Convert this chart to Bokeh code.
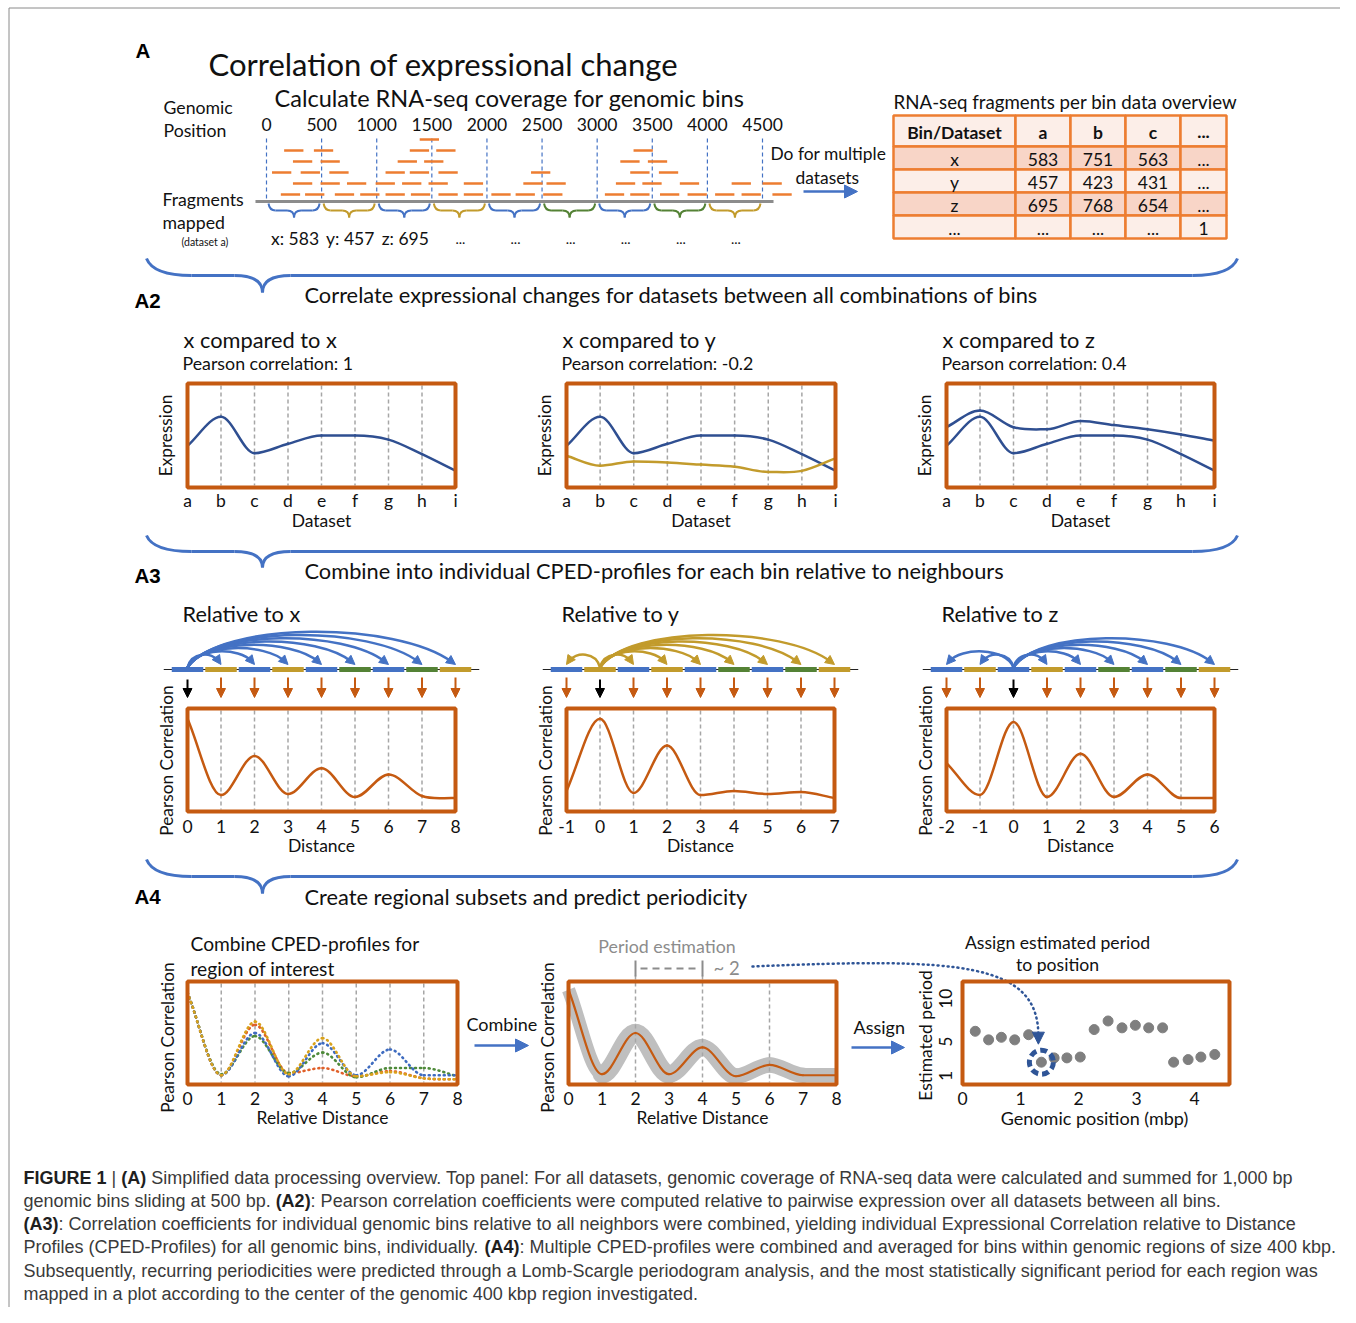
import numpy as np
from bokeh.plotting import figure
from bokeh.models import Range1d, Arrow, NormalHead, ColumnDataSource
from bokeh.core.properties import value
from bokeh.embed import file_html
from bokeh.resources import INLINE

# ======================= DATA =======================
genomic_ticks = [0, 500, 1000, 1500, 2000, 2500, 3000, 3500, 4000, 4500]
frag_level1 = [130, 350, 620, 850, 1080, 1310, 1560, 1790, 2040, 2260, 2510, 3070, 3300, 3570, 3820, 4070, 4310, 4590]
frag_level2 = [240, 490, 730, 990, 1230, 1470, 1790, 2330, 2540, 3170, 3410, 3750, 4220, 4500]
frag_level3 = [50, 310, 570, 1080, 1300, 1560, 2400, 3300, 3560]
frag_level4 = [240, 490, 1190, 1430, 3210, 3460]
frag_level5 = [160, 430, 1300, 1540, 3330]
frag_level6 = [1390]
fragment_length_bp = 175
bin_colors = ["blue", "gold", "blue", "gold", "blue", "green", "blue", "green", "gold"]
bin_count_labels = ["x: 583", "y: 457", "z: 695", "...", "...", "...", "...", "...", "..."]

table_header = ["Bin/Dataset", "a", "b", "c", "..."]
table_rows = [["x", "583", "751", "563", "..."],
              ["y", "457", "423", "431", "..."],
              ["z", "695", "768", "654", "..."],
              ["...", "...", "...", "...", "1"]]

datasets = ["a", "b", "c", "d", "e", "f", "g", "h", "i"]
expression_x = [4.0, 6.8, 3.3, 4.2, 5.0, 5.0, 4.6, 3.2, 1.6]
expression_y = [3.05, 2.1, 2.5, 2.4, 2.2, 2.0, 1.5, 1.6, 2.8]
expression_z = [5.8, 7.4, 5.8, 5.6, 6.4, 6.0, 5.6, 5.1, 4.5]
pearson_values = ["1", "-0.2", "0.4"]

distance_rel_x = [0, 1, 2, 3, 4, 5, 6, 7, 8]
corr_rel_x = [0.90, 0.16, 0.54, 0.17, 0.42, 0.14, 0.36, 0.15, 0.13]
distance_rel_y = [-1, 0, 1, 2, 3, 4, 5, 6, 7]
corr_rel_y = [0.20, 0.90, 0.18, 0.64, 0.16, 0.20, 0.17, 0.19, 0.13]
distance_rel_z = [-2, -1, 0, 1, 2, 3, 4, 5, 6]
corr_rel_z = [0.47, 0.16, 0.87, 0.14, 0.56, 0.14, 0.36, 0.13, 0.13]

relative_distance = [0, 1, 2, 3, 4, 5, 6, 7, 8]
cped_gold = [0.89, 0.09, 0.61, 0.10, 0.45, 0.08, 0.12, 0.06, 0.05]
cped_red = [0.89, 0.09, 0.58, 0.11, 0.16, 0.08, 0.13, 0.06, 0.05]
cped_blue = [0.89, 0.09, 0.50, 0.08, 0.40, 0.09, 0.34, 0.09, 0.09]
cped_green = [0.89, 0.10, 0.47, 0.11, 0.31, 0.07, 0.16, 0.16, 0.08]
combined_mean = [0.92, 0.10, 0.50, 0.10, 0.36, 0.08, 0.19, 0.09, 0.09]
combined_halfwidth = [0.05, 0.08, 0.10, 0.08, 0.09, 0.07, 0.08, 0.07, 0.07]
period_marks = [2, 4]

genomic_position_mbp = [0.22, 0.45, 0.67, 0.90, 1.14, 1.36, 1.58, 1.80, 2.03, 2.27, 2.51, 2.75, 2.98, 3.21, 3.45, 3.64, 3.89, 4.11, 4.35]
estimated_period = [6.2, 5.2, 5.5, 5.2, 5.8, 2.6, 3.1, 3.1, 3.2, 6.4, 7.4, 6.6, 6.9, 6.6, 6.6, 2.6, 2.9, 3.2, 3.5]
highlight_index = 5
period_ticks = [1, 5, 10]
position_ticks = [0, 1, 2, 3, 4]

caption_lines = [
    [("FIGURE 1", True), (" | ", False), ("(A)", True),
     (" Simplified data processing overview. Top panel: For all datasets, genomic coverage of RNA-seq data were calculated and summed for 1,000 bp", False)],
    [("genomic bins sliding at 500 bp. ", False), ("(A2)", True),
     (": Pearson correlation coefficients were computed relative to pairwise expression over all datasets between all bins.", False)],
    [("(A3)", True),
     (": Correlation coefficients for individual genomic bins relative to all neighbors were combined, yielding individual Expressional Correlation relative to Distance", False)],
    [("Profiles (CPED-Profiles) for all genomic bins, individually. ", False), ("(A4)", True),
     (": Multiple CPED-profiles were combined and averaged for bins within genomic regions of size 400 kbp.", False)],
    [("Subsequently, recurring periodicities were predicted through a Lomb-Scargle periodogram analysis, and the most statistically significant period for each region was", False)],
    [("mapped in a plot according to the center of the genomic 400 kbp region investigated.", False)],
]

# ======================= STYLE =======================
BLUE = "#4472C4"; GOLD = "#C29B2C"; GREEN = "#548235"; ORANGE = "#ED7D31"
RUST = "#C55A11"; DKBLUE = "#2F5597"; GRID = "#A6A6A6"; CBLUE = "#2F4F91"
COLOR = {"blue": BLUE, "gold": GOLD, "green": GREEN}
FONT = "Lato"

W, H = 1340, 1307
p = figure(width=W, height=H, x_range=Range1d(0, W), y_range=Range1d(H, 0),
           output_backend="svg", toolbar_location=None, min_border=0,
           x_axis_type=None, y_axis_type=None)
p.grid.visible = False
p.outline_line_color = None
p.background_fill_color = "white"


def T(x, y, s, size, align="left", color="#111111", bold=False, angle=0.0, font=FONT):
    p.text(x=[x], y=[y], text=[s], text_font=value(font), text_font_size=f"{size}px",
           text_color=color, text_align=align, text_baseline="middle",
           text_font_style="bold" if bold else "normal", angle=angle)


def mapper(box, xr, yr):
    l, r, t, b = box
    def fx(v):
        return l + (np.asarray(v, float) - xr[0]) / (xr[1] - xr[0]) * (r - l)
    def fy(v):
        return b - (np.asarray(v, float) - yr[0]) / (yr[1] - yr[0]) * (b - t)
    return fx, fy


def smooth_bezier(xs, ys):
    P = np.column_stack([np.asarray(xs, float), np.asarray(ys, float)])
    n = len(P)
    M = np.zeros_like(P)
    for i in range(n):
        if i == 0:
            M[i] = P[1] - P[0]
        elif i == n - 1:
            M[i] = P[-1] - P[-2]
        else:
            M[i] = (P[i + 1] - P[i - 1]) / 2.0
            if (P[i, 1] - P[i - 1, 1]) * (P[i + 1, 1] - P[i, 1]) <= 0:
                M[i, 1] = 0.0
    d = {k: [] for k in ("x0", "y0", "x1", "y1", "cx0", "cy0", "cx1", "cy1")}
    for i in range(n - 1):
        c0 = P[i] + M[i] / 3.0
        c1 = P[i + 1] - M[i + 1] / 3.0
        d["x0"].append(P[i, 0]); d["y0"].append(P[i, 1])
        d["x1"].append(P[i + 1, 0]); d["y1"].append(P[i + 1, 1])
        d["cx0"].append(c0[0]); d["cy0"].append(c0[1])
        d["cx1"].append(c1[0]); d["cy1"].append(c1[1])
    return d


BZ = dict(x0="x0", y0="y0", x1="x1", y1="y1", cx0="cx0", cy0="cy0", cx1="cx1", cy1="cy1")


def curve(xs, ys, color, lw=2.5, dash="solid"):
    d = smooth_bezier(xs, ys)
    p.bezier(**BZ, source=ColumnDataSource(d), line_color=color, line_width=lw, line_dash=dash,
             line_cap="round")


def arrows(xs, ys, xe, ye, color, size=10, lw=2.0):
    src = ColumnDataSource(dict(xs=list(xs), ys=list(ys), xe=list(xe), ye=list(ye)))
    p.add_layout(Arrow(end=NormalHead(size=size, fill_color=color, line_color=color, line_width=1),
                       x_start="xs", y_start="ys", x_end="xe", y_end="ye",
                       line_color=color, line_width=lw, source=src))


def brace(xl, xr, xtip, ytop, ymid, ytip, r_end, r_tip, color, lw):
    p.quadratic(x0=[xl, xtip - r_tip, xtip, xr - r_end],
                y0=[ytop, ymid, ytip, ymid],
                x1=[xl + r_end, xtip, xtip + r_tip, xr],
                y1=[ymid, ytip, ymid, ytop],
                cx=[xl + r_end * 0.15, xtip, xtip, xr - r_end * 0.15],
                cy=[ymid, ymid, ymid, ymid], line_color=color, line_width=lw)
    p.segment(x0=[xl + r_end, xtip + r_tip], y0=[ymid, ymid],
              x1=[xtip - r_tip, xr - r_end], y1=[ymid, ymid], line_color=color, line_width=lw)


def box(l, r, t, b):
    p.quad(left=[l], right=[r], top=[t], bottom=[b], fill_color=None,
           line_color=RUST, line_width=4)


def vgrid(xs, t, b, color=GRID, lw=1.5):
    xs = list(xs)
    p.segment(x0=xs, y0=[t] * len(xs), x1=xs, y1=[b] * len(xs),
              line_color=color, line_width=lw, line_dash="4 3")


# outer frame
p.quad(left=[8.5], right=[1353], top=[7.5], bottom=[1340], fill_color=None,
       line_color="#8a8a8a", line_width=1)

# ======================= PANEL A =======================
gx = lambda bp: 266 + np.asarray(bp, float) * (762 - 266) / 4500.0
T(135, 50, "A", 20.5, bold=True, font="Liberation Sans", color="#000000")
T(208, 63, "Correlation of expressional change", 31)
T(274, 97, "Calculate RNA-seq coverage for genomic bins", 23.5)
T(163, 107, "Genomic", 17.7)
T(163, 130, "Position", 17.7)
for t in genomic_ticks:
    T(float(gx(t)), 124, str(t), 17.5, align="center")
vgrid([float(gx(t)) for t in genomic_ticks], 138, 202, color=BLUE, lw=1.2)

levels = [frag_level1, frag_level2, frag_level3, frag_level4, frag_level5, frag_level6]
fx0, fx1, fy = [], [], []
for lv, starts in enumerate(levels, start=1):
    for s in starts:
        fx0.append(float(gx(s))); fx1.append(float(gx(s + fragment_length_bp))); fy.append(205 - 11 * lv)
p.segment(x0=fx0, y0=fy, x1=fx1, y1=fy, line_color=ORANGE, line_width=2.6)
p.segment(x0=[float(gx(-100))], y0=[201], x1=[float(gx(4600))], y1=[201], line_color="#8C8C8C", line_width=3)

for i, c in enumerate(bin_colors):
    xl = float(gx(genomic_ticks[i])) + 2
    xr = float(gx(genomic_ticks[i + 1])) - 2
    xm = (xl + xr) / 2
    brace(xl, xr, xm, 203, 210, 217, 7, 7, COLOR[c], 2)
    T(xm + 1, 238, bin_count_labels[i], 17.5 if bin_count_labels[i] != "..." else 14, align="center")

T(162, 199, "Fragments", 17.7)
T(162, 222, "mapped", 17.7)
T(181, 241, "(dataset a)", 10.5)
T(770, 153, "Do for multiple", 17.4)
T(795, 177, "datasets", 17.4)
arrows([803], [191], [857], [191], BLUE, size=13, lw=2.5)

T(893, 101, "RNA-seq fragments per bin data overview", 18.7)
col_edges = [893, 1015, 1070, 1125, 1180, 1226]
row_edges = [115, 146, 169, 192, 215, 238]
row_fill = ["#FCEEE8", "#F8D5C7", "#FCEEE8", "#F8D5C7", "#FCEEE8"]
all_rows = [table_header] + table_rows
ql, qr, qt, qb, qf = [], [], [], [], []
for r, row in enumerate(all_rows):
    for c, cell in enumerate(row):
        ql.append(col_edges[c]); qr.append(col_edges[c + 1])
        qt.append(row_edges[r]); qb.append(row_edges[r + 1]); qf.append(row_fill[r])
p.quad(left=ql, right=qr, top=qt, bottom=qb, fill_color=qf, line_color=ORANGE, line_width=2.5)
for r, row in enumerate(all_rows):
    for c, cell in enumerate(row):
        T((col_edges[c] + col_edges[c + 1]) / 2, (row_edges[r] + row_edges[r + 1]) / 2 + 1, cell,
          17.5, align="center", bold=(r == 0))

# ======================= SECTION BRACES =======================
for (yt, ym, ytip) in [(258, 275, 292), (535, 551, 567), (859, 876, 893)]:
    brace(146, 1237, 262, yt, ym, ytip, 45, 28, BLUE, 3)

# ======================= A2 =======================
T(134, 300, "A2", 20.5, bold=True, font="Liberation Sans", color="#000000")
T(304, 294, "Correlate expressional changes for datasets between all combinations of bins", 21.8)
a2_boxes = [(187, 455), (566, 835), (946, 1214)]
a2_series = [[(expression_x, CBLUE)],
             [(expression_x, CBLUE), (expression_y, GOLD)],
             [(expression_x, CBLUE), (expression_z, CBLUE)]]
a2_titles = ["x compared to x", "x compared to y", "x compared to z"]
for k, (l, r) in enumerate(a2_boxes):
    t, b = 383, 487
    fx, fyy = mapper((l, r, t, b), (0, len(datasets) - 1), (0, 10))
    xs = fx(np.arange(len(datasets)))
    vgrid(xs[1:-1], t + 2, b - 2)
    for ser, col in a2_series[k]:
        curve(xs, fyy(ser), col, 2.5)
    box(l, r, t, b)
    for j, lab in enumerate(datasets):
        T(float(xs[j]), 500, lab, 17.5, align="center")
    T((l + r) / 2, 520, "Dataset", 17.5, align="center")
    T(l - 4, 339, a2_titles[k], 21.8)
    T(l - 5, 362, "Pearson correlation: " + pearson_values[k], 17.8)
    T(l - 22, (t + b) / 2, "Expression", 17.2, align="center", angle=np.pi / 2)

# ======================= A3 =======================
T(134, 575, "A3", 20.5, bold=True, font="Liberation Sans", color="#000000")
T(304, 570, "Combine into individual CPED-profiles for each bin relative to neighbours", 21.8)
a3_boxes = [(187, 455), (566, 834), (946, 1214)]
a3_dist = [distance_rel_x, distance_rel_y, distance_rel_z]
a3_corr = [corr_rel_x, corr_rel_y, corr_rel_z]
a3_titles = ["Relative to x", "Relative to y", "Relative to z"]
a3_arc_colors = [BLUE, GOLD, BLUE]
for k, (l, r) in enumerate(a3_boxes):
    t, b = 708, 811
    dist = a3_dist[k]
    fx, fyy = mapper((l, r, t, b), (dist[0], dist[-1]), (0, 1))
    xs = fx(dist)
    step = xs[1] - xs[0]
    p.segment(x0=[xs[0] - step / 2 - 7], y0=[669], x1=[xs[-1] + step / 2 + 7], y1=[669],
              line_color="#222222", line_width=1)
    p.segment(x0=list(xs - step / 2 + 1), y0=[669] * len(xs), x1=list(xs + step / 2 - 1), y1=[669] * len(xs),
              line_color=[COLOR[c] for c in bin_colors], line_width=5)
    src_i = dist.index(0)
    xsrc = float(xs[src_i])
    ac = a3_arc_colors[k]
    bx = {kk: [] for kk in ("x0", "y0", "x1", "y1", "cx0", "cy0", "cx1", "cy1")}
    ax0, ay0, ax1, ay1 = [], [], [], []
    for j, dv in enumerate(dist):
        if dv == 0:
            continue
        xt = float(xs[j])
        dd = xt - xsrc
        s = np.sign(dd)
        ad = abs(dd)
        h = 12 + 3.3 * (abs(dv) - 1)
        ctrl = h / 0.75
        P0 = np.array([xsrc, 667.0]); P3 = np.array([xt, 664.0])
        P1 = np.array([xsrc + s * 0.12 * ad, 667 - ctrl])
        P2 = np.array([xt - s * max(0.22 * ad, 9), 667 - ctrl])
        u = (P3 - P2) / np.linalg.norm(P3 - P2)
        Pe = P3 - u * 4
        bx["x0"].append(P0[0]); bx["y0"].append(P0[1]); bx["x1"].append(Pe[0]); bx["y1"].append(Pe[1])
        bx["cx0"].append(P1[0]); bx["cy0"].append(P1[1]); bx["cx1"].append(P2[0]); bx["cy1"].append(P2[1])
        ax0.append(P3[0] - u[0] * 6); ay0.append(P3[1] - u[1] * 6); ax1.append(P3[0]); ay1.append(P3[1])
    p.bezier(**BZ, source=ColumnDataSource(bx), line_color=ac, line_width=2.5)
    arrows(ax0, ay0, ax1, ay1, ac, size=9, lw=2)
    red_x = [float(xs[j]) for j, dv in enumerate(dist) if dv != 0]
    arrows(red_x, [677] * len(red_x), red_x, [697] * len(red_x), RUST, size=9, lw=2)
    arrows([xsrc], [679], [xsrc], [697], "#000000", size=9, lw=2)
    vgrid(xs[1:-1], t + 2, b - 2)
    curve(xs, fyy(a3_corr[k]), RUST, 2.5)
    box(l, r, t, b)
    for j, dv in enumerate(dist):
        T(float(xs[j]), 826, str(dv), 17.5, align="center")
    T((l + r) / 2, 845, "Distance", 17.5, align="center")
    T(l - 5, 613, a3_titles[k], 21.7)
    T(l - 21, 760, "Pearson Correlation", 17.3, align="center", angle=np.pi / 2)

# ======================= A4 =======================
T(134, 896, "A4", 20.5, bold=True, font="Liberation Sans", color="#000000")
T(304, 896, "Create regional subsets and predict periodicity", 21.8)

# panel 1
l, r, t, b = 187, 457, 981, 1084
fx, fyy = mapper((l, r, t, b), (0, 8), (0, 1))
xs = fx(relative_distance)
vgrid(xs[1:-1], t + 2, b - 2)
for ser, col in [(cped_red, "#E0602A"), (cped_green, "#4E8A3A"), (cped_blue, "#3F6CC0"), (cped_gold, "#D9A21B")]:
    curve(xs, fyy(ser), col, 2.6, dash="1 4")
box(l, r, t, b)
for j, dv in enumerate(relative_distance):
    T(float(xs[j]), 1098, str(dv), 17.5, align="center")
T((l + r) / 2, 1117, "Relative Distance", 17.4, align="center")
T(190, 943, "Combine CPED-profiles for", 19.2)
T(190, 968, "region of interest", 19.2)
T(l - 20, 1037, "Pearson Correlation", 17.3, align="center", angle=np.pi / 2)
T(466, 1023, "Combine", 18)
arrows([474], [1045], [528], [1045], BLUE, size=13, lw=2.5)

# panel 2
l, r, t, b = 568, 836, 981, 1084
fx, fyy = mapper((l, r, t, b), (0, 8), (0, 1))
xs = fx(relative_distance)
px_per_unit = (b - t)
band = smooth_bezier(xs, fyy(combined_mean))
hw = np.asarray(combined_halfwidth)
band["w"] = list((hw[:-1] + hw[1:]) * px_per_unit)
nseg = len(band["x0"])
inner = {k: v[1:-1] for k, v in band.items()}
ends = {k: [v[0], v[-1]] for k, v in band.items()}
p.bezier(**BZ, source=ColumnDataSource(inner), line_color="#BFBFBF", line_width="w", line_cap="round")
p.bezier(**BZ, source=ColumnDataSource(ends), line_color="#BFBFBF", line_width="w", line_cap="butt")
mark_x = [float(fx(m)) for m in period_marks]
vgrid(mark_x, 975, b - 2)
vgrid([float(fx(6))], t + 2, b - 2)
curve(xs, fyy(combined_mean), RUST, 2.2)
box(l, r, t, b)
for j, dv in enumerate(relative_distance):
    T(float(xs[j]), 1098, str(dv), 17.5, align="center")
T((l + r) / 2, 1117, "Relative Distance", 17.4, align="center")
T(l - 21, 1037, "Pearson Correlation", 17.3, align="center", angle=np.pi / 2)
T((mark_x[0] + mark_x[1]) / 2 - 2, 945, "Period estimation", 17.8, align="center", color="#8C8C8C")
p.segment(x0=mark_x, y0=[960, 960], x1=mark_x, y1=[976, 976], line_color="#8C8C8C", line_width=2)
p.segment(x0=[mark_x[0] + 5], y0=[968], x1=[mark_x[1] - 4], y1=[968], line_color="#8C8C8C",
          line_width=2, line_dash="7 5")
T(mark_x[1] + 11, 967, "~ 2", 18.5, color="#8C8C8C")
T(853, 1026, "Assign", 18)
arrows([851], [1047], [904], [1047], BLUE, size=13, lw=2.5)

# panel 3
l, r, t, b = 962, 1229, 981, 1084
fx, fyy = mapper((l, r, t, b), (0, (r - l) / 58.0), (0, 12.0))
hx = float(fx(genomic_position_mbp[highlight_index]))
hy = float(fyy(estimated_period[highlight_index]))
p.bezier(x0=[752], y0=[966], cx0=[960], cy0=[957], cx1=[hx - 3], cy1=[962], x1=[hx - 3], y1=[hy - 26],
         line_color=DKBLUE, line_width=2.5, line_dash="1 4", line_cap="round")
arrows([hx - 3], [hy - 28], [hx - 3], [hy - 18], DKBLUE, size=12, lw=2.5)
p.scatter(x=list(fx(genomic_position_mbp)), y=list(fyy(estimated_period)), size=10,
          fill_color="#7F7F7F", line_color="#7F7F7F")
p.circle(x=[hx], y=[hy], radius=12, fill_color=None, line_color=DKBLUE, line_width=5, line_dash="7 4")
box(l, r, t, b)
for v in position_ticks:
    T(float(fx(v)), 1098, str(v), 17.5, align="center")
for v in period_ticks:
    T(945, float(fyy(v)), str(v), 17.5, align="center", angle=np.pi / 2)
T(1094, 1117, "Genomic position (mbp)", 18, align="center")
T(925, 1035, "Estimated period", 17.5, align="center", angle=np.pi / 2)
T(1057, 942, "Assign estimated period", 17.6, align="center")
T(1057, 964, "to position", 17.6, align="center")

# ======================= CAPTION =======================
REG = {" ": 278, "(": 333, ")": 333, ",": 278, "-": 333, ".": 278, "/": 278, ":": 278, "|": 260}
for ch in "0123456789":
    REG[ch] = 556
REG.update(dict(zip("ABCDEFGHIJKLMNOPQRSTUVWXYZ",
                    [667, 667, 722, 722, 667, 611, 778, 722, 278, 500, 667, 556, 833, 722, 778, 667, 778, 722, 667, 611, 722, 667, 944, 667, 667, 611])))
REG.update(dict(zip("abcdefghijklmnopqrstuvwxyz",
                    [556, 556, 500, 556, 556, 278, 556, 556, 222, 222, 500, 222, 833, 556, 556, 556, 556, 333, 500, 278, 556, 500, 722, 500, 500, 500])))
BOLD = {" ": 278, "(": 333, ")": 333, ":": 333, "A": 722, "E": 667, "F": 611, "G": 778, "I": 278, "R": 722, "U": 722}
for ch in "0123456789":
    BOLD[ch] = 556
CAP_SIZE = 18.0


def tw(s, bold):
    tbl = BOLD if bold else REG
    return sum(tbl.get(ch, 556) for ch in s) * CAP_SIZE / 1000.0


for li, segs in enumerate(caption_lines):
    x = 23.0
    y = 1177 + 23.3 * li
    for s, bold in segs:
        lead = len(s) - len(s.lstrip(" "))
        stripped = s.strip(" ")
        if stripped:
            T(x + tw(" " * lead, bold), y, stripped, CAP_SIZE, bold=bold, font="Liberation Sans",
              color="#1f1f1f" if bold else "#3a3a3a")
        x += tw(s, bold)

open("out.html", "w").write(file_html(p, INLINE))
